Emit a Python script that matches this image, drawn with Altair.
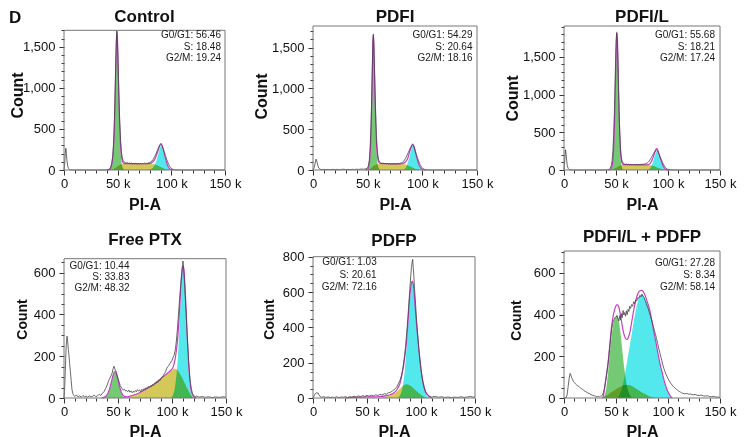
import altair as alt
import pandas as pd

FONT = "Liberation Sans"

panel_names = ["Control", "PDFI", "PDFI/L", "Free PTX", "PDFP", "PDFI/L + PDFP"]
phase_labels = ["G0/G1", "S", "G2/M"]

control_pct = [56.46, 18.48, 19.24]
pdfi_pct = [54.29, 20.64, 18.16]
pdfil_pct = [55.68, 18.21, 17.24]
freeptx_pct = [10.44, 33.83, 48.32]
pdfp_pct = [1.03, 20.61, 72.16]
combo_pct = [27.28, 8.34, 58.14]

# ---------------- Control (x in k, count) ----------------
control_raw = [(0,0),(0.6,60),(1.2,200),(1.7,265),(2.2,200),(2.8,110),(3.4,50),(4.2,20),(5,8),(6,3),(8,0),(20,0),(38,0),(41,4),(42.5,12),(43.5,35),(44.5,80),(45.5,180),(46.3,350),(47,620),(47.6,950),(48.2,1300),(48.7,1560),(49.2,1690),(49.7,1600),(50.2,1400),(50.8,1100),(51.4,800),(52,560),(52.7,360),(53.5,220),(54.3,150),(55.2,115),(56,98),(57,90),(58,84),(59,92),(60,80),(61,86),(62,78),(63,84),(64,72),(65,80),(66,75),(67,83),(68,70),(69,78),(70,74),(71,82),(72,70),(73,79),(74,76),(75,84),(76,74),(77,82),(78,80),(79,88),(80,90),(81,100),(82,110),(83,128),(84,150),(85,175),(86,205),(87,240),(88,270),(89,295),(90,310),(90.8,305),(91.6,285),(92.5,255),(93.5,215),(94.5,175),(95.5,135),(96.5,100),(97.5,70),(98.5,45),(99.5,28),(100.5,15),(101.5,8),(103,3),(105,0),(150,0)]
control_g1 = [(42,0),(43,10),(44,35),(45,100),(46,240),(46.8,450),(47.5,780),(48.2,1200),(48.8,1530),(49.3,1670),(49.8,1560),(50.4,1250),(51,900),(51.7,560),(52.5,290),(53.3,130),(54.2,50),(55.2,15),(56.5,0)]
control_s = [(44,0),(46,10),(48,28),(50,45),(52,60),(54,70),(56,76),(60,78),(65,77),(70,76),(75,76),(80,75),(83,72),(85,66),(87,56),(89,44),(91,31),(93,19),(95,9),(97,3),(99,0)]
control_g2 = [(79,0),(81,8),(83,30),(85,75),(86.5,130),(88,200),(89.2,262),(90.3,295),(91.4,275),(92.6,222),(94,150),(95.5,85),(97,40),(98.5,15),(100,4),(102,0)]
control_fit = [(40,0),(42,4),(43,12),(44,40),(45,110),(46,250),(46.8,462),(47.5,798),(48.2,1225),(48.8,1560),(49.3,1700),(49.8,1595),(50.4,1292),(51,945),(51.7,610),(52.5,345),(53.3,190),(54.2,117),(55.2,88),(56.5,78),(60,78),(65,77),(70,76),(75,76),(80,77),(81,83),(83,102),(85,141),(86.5,192),(88,250),(89.2,302),(90.3,322),(91.4,300),(92.6,242),(94,165),(95.5,95),(97,43),(98.5,15),(100,4),(102,0)]

# ---------------- PDFI ----------------
pdfi_raw = [(0,0),(1,25),(2,85),(2.8,134),(3.5,110),(4.3,60),(5.2,25),(6.5,10),(8,4),(10,8),(12,3),(14,7),(16,4),(18,9),(20,5),(22,8),(24,3),(26,7),(28,10),(30,5),(32,8),(34,4),(36,9),(38,6),(40,10),(42,7),(44,12),(46,9),(48,14),(49.5,20),(50.5,45),(51.5,120),(52.3,280),(53,520),(53.7,900),(54.3,1300),(54.8,1580),(55.2,1660),(55.7,1520),(56.2,1250),(56.8,950),(57.4,650),(58,420),(58.7,260),(59.5,160),(60.3,115),(61.2,95),(62,88),(63,80),(64,86),(65,76),(66,82),(67,74),(68,80),(69,72),(70,78),(71,70),(72,76),(73,73),(74,80),(75,71),(76,77),(77,74),(78,82),(79,78),(80,84),(81,88),(82,95),(83,108),(84,128),(85,152),(86,180),(87,210),(88,240),(89,268),(90,292),(91,310),(91.8,300),(92.7,270),(93.6,230),(94.5,190),(95.5,150),(96.5,112),(97.5,80),(98.5,52),(99.5,32),(100.5,18),(101.5,9),(103,4),(105,2),(107,0),(150,0)]
pdfi_g1 = [(49,0),(50,8),(51,35),(52,130),(52.8,330),(53.5,650),(54.2,1100),(54.7,1450),(55.1,1620),(55.6,1520),(56.2,1180),(56.8,800),(57.5,450),(58.3,200),(59.2,70),(60.2,20),(61.5,0)]
pdfi_s = [(50,0),(52,12),(54,35),(56,55),(58,68),(60,75),(63,78),(70,77),(75,76),(80,75),(84,70),(86,62),(88,50),(90,37),(92,24),(94,13),(96,5),(98,1),(99,0)]
pdfi_g2 = [(82,0),(84,15),(85.5,45),(87,100),(88.5,175),(90,255),(91.2,298),(92.4,275),(93.6,212),(95,140),(96.5,75),(98,32),(99.5,11),(101,3),(103,0)]
pdfi_fit = [(48,0),(50,8),(51,40),(52,142),(52.8,350),(53.5,680),(54.2,1135),(54.7,1490),(55.1,1665),(55.6,1570),(56.2,1237),(56.8,865),(57.5,520),(58.3,272),(59.2,145),(60.2,96),(61.5,80),(63,78),(70,77),(80,75),(82,80),(84,91),(85.5,113),(87,157),(88.5,227),(90,287),(91.2,318),(92.4,290),(93.6,224),(95,148),(96.5,78),(98,33),(99.5,11),(101,3),(103,0)]

# ---------------- PDFI/L ----------------
pdfil_raw = [(0,0),(0.5,70),(1,200),(1.5,268),(2,210),(2.6,120),(3.2,55),(4,22),(5,8),(6.5,3),(9,0),(40,0),(42,3),(43.5,10),(44.5,25),(45.5,60),(46.3,130),(47,250),(47.7,450),(48.4,750),(49,1100),(49.6,1450),(50.1,1700),(50.6,1820),(51.1,1760),(51.6,1550),(52.2,1200),(52.8,850),(53.5,520),(54.2,300),(55,180),(55.8,120),(56.8,92),(58,80),(59,74),(60,79),(61,70),(62,76),(63,68),(64,74),(65,67),(66,72),(67,66),(68,73),(69,68),(70,75),(71,69),(72,74),(73,70),(74,77),(75,72),(76,78),(77,76),(78,82),(79,86),(80,92),(81,104),(82,120),(83,142),(84,165),(85,190),(86,215),(87,238),(88,255),(88.8,265),(89.6,258),(90.5,235),(91.5,205),(92.5,172),(93.5,140),(94.5,108),(95.5,78),(96.5,54),(97.5,35),(98.5,20),(99.5,11),(101,5),(103,2),(105,0),(150,0)]
pdfil_g1 = [(44,0),(45,10),(46,35),(47,110),(47.8,280),(48.5,560),(49.2,950),(49.8,1350),(50.4,1680),(50.9,1790),(51.4,1680),(52,1350),(52.6,960),(53.3,560),(54,280),(54.8,110),(55.7,35),(56.7,8),(58,0)]
pdfil_s = [(45,0),(47,8),(49,22),(51,38),(53,52),(55,62),(57,68),(60,70),(65,70),(70,69),(75,69),(80,68),(83,64),(85,58),(87,49),(89,38),(91,27),(93,16),(95,8),(97,2),(99,0)]
pdfil_g2 = [(80,0),(82,12),(83.5,38),(85,85),(86.5,150),(87.8,212),(88.9,250),(90,238),(91.2,195),(92.5,140),(94,82),(95.5,40),(97,16),(98.5,5),(100,1),(101,0)]
pdfil_fit = [(43,0),(44,3),(45,13),(46,42),(47,125),(47.8,302),(48.5,585),(49.2,980),(49.8,1385),(50.4,1718),(50.9,1830),(51.4,1720),(52,1394),(52.6,1006),(53.3,610),(54,332),(54.8,165),(55.7,96),(56.7,74),(58,70),(65,70),(70,69),(80,68),(82,76),(83.5,100),(85,143),(86.5,200),(87.8,254),(88.9,283),(90,268),(91.2,222),(92.5,160),(94,96),(95.5,48),(97,18),(98.5,5),(100,1),(101,0)]

# ---------------- Free PTX ----------------
freeptx_raw = [(0,0),(0.5,30),(1.2,130),(2,250),(2.8,296),(3.4,270),(4,232),(4.6,205),(5.2,165),(5.9,128),(6.6,85),(7.4,40),(8.2,22),(9,12),(10,8),(11.5,14),(13,5),(14.5,10),(16,4),(17.5,12),(19,6),(20.5,9),(22,3),(23.5,11),(25,5),(26.5,8),(28,14),(29.5,6),(31,10),(32.5,18),(34,12),(35.5,22),(37,30),(38.5,45),(40,62),(41.5,85),(43,100),(44.5,118),(45.5,140),(46.3,152),(47,140),(48,130),(49,112),(50,95),(51,78),(52,60),(53,52),(54,44),(55,38),(56,42),(57,33),(58,36),(59,30),(60,38),(61,28),(62,34),(63,25),(64,32),(65,27),(66,36),(67,30),(68,40),(69,33),(70,38),(71,30),(72,42),(73,36),(74,45),(75,40),(76,50),(77,44),(78,55),(79,50),(80,58),(81,54),(82,64),(83,60),(84,70),(85,68),(86,78),(87,74),(88,86),(89,84),(90,96),(91,100),(92,108),(93,118),(94,125),(95,140),(96,150),(97,155),(98,165),(99,172),(100,180),(101,195),(102,205),(103,230),(104,270),(105,330),(106,400),(107,470),(108,540),(109,600),(109.7,640),(110.2,656),(110.8,620),(111.5,560),(112.2,490),(113,410),(113.8,330),(114.6,250),(115.4,180),(116.2,120),(117,75),(118,42),(119,22),(120,12),(121.5,6),(123,9),(125,4),(128,7),(131,3),(134,6),(137,2),(140,5),(144,3),(147,6),(150,4)]
freeptx_g1 = [(37,0),(39,8),(41,25),(42.5,48),(44,78),(45.5,108),(47,125),(48.5,112),(50,82),(51.5,50),(53,25),(54.5,10),(56,3),(57.5,0)]
freeptx_s = [(54,0),(57,3),(60,7),(63,12),(66,17),(69,23),(72,31),(75,40),(78,49),(81,59),(84,70),(87,82),(90,94),(93,107),(96,119),(99,131),(101.5,139),(103,140),(104.5,136),(106,127),(107.5,115),(109,100),(110.5,85),(112,68),(113.5,52),(115,37),(116.5,23),(118,12),(119.5,4),(121,0)]
freeptx_g2 = [(99,0),(101,15),(102.5,45),(104,105),(105.5,200),(106.7,320),(107.8,440),(108.8,545),(109.7,610),(110.4,625),(111.2,590),(112,510),(113,390),(114,265),(115,160),(116,85),(117,40),(118,15),(119.5,4),(121,0)]
freeptx_fit = [(35,0),(37,3),(39,10),(41,27),(42.5,50),(44,80),(45.5,110),(47,128),(48.5,116),(50,86),(51.5,54),(53,29),(54.5,14),(56,8),(58,6),(60,8),(63,12),(66,17),(69,23),(72,31),(75,40),(78,49),(81,59),(84,70),(87,82),(90,94),(93,107),(96,120),(99,133),(101,148),(102.5,175),(104,225),(105.5,300),(106.7,395),(107.8,495),(108.8,575),(109.7,622),(110.4,632),(111.2,605),(112,540),(113,430),(114,310),(115,200),(116,115),(117,60),(118,28),(119.5,10),(121,3),(122.5,0)]

# ---------------- PDFP ----------------
pdfp_raw = [(0,0),(1,12),(2,24),(3,30),(3.8,26),(4.6,30),(5.5,18),(6.5,9),(8,4),(10,7),(12,3),(14,6),(16,2),(18,5),(20,3),(22,7),(24,2),(26,6),(28,4),(30,8),(32,3),(34,7),(36,5),(38,10),(40,6),(42,12),(44,8),(46,13),(48,9),(50,15),(52,10),(54,16),(56,12),(58,18),(60,14),(62,20),(64,17),(66,24),(68,22),(70,30),(72,33),(74,42),(76,52),(77.5,62),(79,80),(80.5,100),(82,130),(83.3,170),(84.5,225),(85.7,290),(86.8,370),(87.8,450),(88.8,540),(89.7,620),(90.5,690),(91.2,740),(91.8,770),(92.3,785),(92.8,740),(93.4,690),(94,620),(94.7,560),(95.5,480),(96.3,410),(97.2,340),(98,280),(99,215),(100,160),(101,115),(102,80),(103,55),(104,36),(105,24),(106.5,14),(108,8),(110,5),(113,9),(116,4),(119,7),(122,3),(125,6),(128,2),(131,5),(134,3),(137,7),(140,3),(143,6),(146,9),(148,5),(150,6)]
pdfp_s = [(60,0),(64,4),(68,9),(72,17),(75,26),(78,38),(80.5,52),(82.5,64),(84.5,74),(86.5,78),(88.5,75),(90.5,68),(92.5,58),(94.5,47),(96.5,36),(98.5,25),(100.5,15),(102.5,7),(104.5,2),(106,0)]
pdfp_g2 = [(78,0),(80,10),(81.5,28),(83,65),(84.5,130),(86,230),(87.5,360),(89,490),(90.5,600),(91.8,655),(93,630),(94.2,555),(95.5,450),(96.8,355),(98.2,260),(99.7,175),(101.2,105),(102.8,55),(104.3,25),(106,9),(108,2),(109,0)]
pdfp_fit = [(30,0),(35,3),(40,4),(45,5),(50,6),(55,6),(60,7),(64,9),(68,13),(72,20),(75,30),(77,42),(78.7,58),(80.5,82),(82.7,142),(84.5,210),(85.8,274),(87,350),(88.3,463),(89.4,560),(90.4,620),(91.3,655),(91.9,662),(92.5,655),(93.3,620),(94.1,558),(95.5,445),(96.6,369),(98,275),(99.7,180),(101.2,112),(102.8,66),(104.3,35),(106,19),(108,7),(110,0)]

# ---------------- PDFI/L + PDFP ----------------
combo_raw = [(0,0),(2,1),(3,15),(4,55),(5,95),(5.8,118),(6.5,112),(7.3,98),(8.2,90),(9,80),(10,74),(11,68),(12,64),(13,58),(14,56),(15,52),(16,48),(17,44),(18,42),(19,36),(20,33),(21,30),(22,27),(23,24),(24,22),(25,19),(26,16),(27,14),(28,12),(29,11),(30,9),(31,7),(32,6),(33,8),(34,5),(35,9),(36,10),(37,14),(38,28),(39,50),(40,80),(41,112),(42,150),(43,195),(44,245),(45,295),(46,335),(47,360),(48,375),(49,385),(50,390),(51,392),(52,380),(52.8,370),(53.6,395),(54.4,375),(55.2,405),(56,385),(56.8,420),(57.6,398),(58.4,410),(59.2,392),(60,418),(60.8,400),(61.6,425),(62.4,415),(63.2,440),(64,430),(65,448),(66,440),(67,462),(68,452),(69,470),(70,465),(71,482),(72,478),(73,492),(74,485),(75,498),(76,488),(77,480),(78,468),(79,455),(80,440),(81,428),(82,410),(83,395),(84,378),(85,360),(86,342),(87,322),(88,305),(89,285),(90,262),(91,240),(92,220),(93,200),(94,180),(95,160),(96,142),(97,128),(98,115),(99,103),(100,93),(101,84),(102,76),(103,68),(104,62),(105,56),(106,51),(107,47),(108,42),(109,38),(110,34),(111,31),(112,28),(113,25),(114,23),(116,20),(118,22),(120,18),(122,19),(124,15),(126,17),(128,13),(130,12),(132,14),(134,10),(136,9),(138,11),(140,7),(142,6),(144,8),(146,4),(148,5),(150,3)]
combo_g1 = [(38,0),(39.5,20),(41,60),(42.5,130),(44,210),(45.5,285),(47,340),(48.5,375),(50,395),(51,400),(52.5,380),(54,325),(55.5,255),(57,185),(58.5,122),(60,72),(61.5,38),(63,17),(64.5,6),(66,0)]
combo_s = [(35,0),(38,5),(41,12),(44,22),(47,32),(50,42),(53,51),(56,58),(59,62),(62,62),(65,57),(68,49),(71,40),(74,30),(77,21),(80,13),(83,6),(86,2),(88,0)]
combo_g2 = [(51,0),(53,12),(55,35),(57,75),(59,125),(61,185),(63,245),(65,305),(67,365),(69,420),(71,462),(73,490),(74.7,498),(76.5,490),(78.5,470),(80.5,445),(82.5,412),(84.5,365),(86.5,312),(88.5,260),(90.5,206),(92.5,156),(94.5,115),(96.5,76),(98.5,45),(100.5,22),(102.5,6),(104,0)]
combo_fit = [(37,0),(38,12),(39.3,56),(40.8,110),(42.4,168),(44,250),(45.4,328),(47,385),(48.5,420),(50,442),(51,448),(52.5,440),(54,405),(55.5,360),(57,320),(58.5,293),(60,281),(61,282),(62,292),(63.5,318),(65,362),(67,420),(69,468),(71,500),(73,514),(74.7,516),(76.5,508),(78.5,485),(80.5,455),(82.5,420),(84.5,370),(86.5,315),(88.5,264),(90.5,210),(92.5,160),(94.5,120),(96.5,80),(98.5,48),(100.5,24),(102.5,8),(104,0)]

# ---------------- styling ----------------
G1_COLOR = "#74ca74"
S_COLOR = "#d4c858"
G2_COLOR = "#52e8ec"
FIT_COLOR = "#c63ec6"
RAW_COLOR = "#444444"
FRAME_COLOR = "#777777"

TOP_H = 144
BOT_H = 147

layouts = {
    "Control":       dict(W=161, H=TOP_H, rtop=4.3, ymax=1700, ystep=100, ymajor=500, tmax=1700, cx=47, cy=69, cs=16, pia=34, tty=-9, tx=157, ty=4, lh=11.5),
    "PDFI":          dict(W=164, H=TOP_H, rtop=0, ymax=1765, ystep=100, ymajor=500, tmax=1700, cx=52, cy=70, cs=16, pia=34, tty=-9, tx=159.5, ty=4, lh=11.5),
    "PDFI/L":        dict(W=156, H=TOP_H, rtop=0, ymax=1910, ystep=100, ymajor=500, tmax=1900, cx=52, cy=72, cs=16, pia=34, tty=-9, tx=151, ty=4, lh=11.5),
    "Free PTX":      dict(W=162, H=BOT_H, rtop=7.7, ymax=667, ystep=50, ymajor=200, tmax=650, cx=42, cy=68, cs=14, pia=33, tty=-11, tx=65.5, ty=10, lh=11),
    "PDFP":          dict(W=162, H=BOT_H, rtop=5.7, ymax=800, ystep=50, ymajor=200, tmax=800, cx=44, cy=68, cs=14, pia=33, tty=-10, tx=63.7, ty=6.4, lh=12.5),
    "PDFI/L + PDFP": dict(W=156, H=BOT_H, rtop=0, ymax=705, ystep=50, ymajor=200, tmax=700, cx=48, cy=69, cs=14, pia=33, tty=-14.3, tx=151, ty=7.4, lh=12),
}


def pts(p):
    return pd.DataFrame(p, columns=["x", "y"])


def panel(name, raw, g1, s, g2, fit, pct, d_label=False):
    L = layouts[name]
    W, H = L["W"], L["H"]
    frame = pd.DataFrame({"x": [0], "x2": [150], "y": [L["ymax"]], "y2": [0]})

    xaxis = alt.Axis(
        values=list(range(0, 151, 10)),
        labelExpr="datum.value % 50 === 0 ? (datum.value === 0 ? '0' : datum.value + ' k') : ''",
        tickSize={"condition": {"test": "datum.value % 50 === 0", "value": 5}, "value": 3},
        tickColor="#333333", domain=False, grid=False,
        labelFont=FONT, labelFontSize=13, labelPadding=2, labelColor="#111111",
        labelFlush=False, labelOverlap=False, labelBound=False,
        title="PI-A", titleFont=FONT, titleFontSize=16, titleFontWeight="bold",
        titleColor="#111111", titleY=L["pia"], titleBaseline="middle",
    )
    yaxis = alt.Axis(
        values=list(range(0, L["tmax"] + 1, L["ystep"])),
        labelExpr=f"datum.value % {L['ymajor']} === 0 ? format(datum.value, ',') : ''",
        tickSize={"condition": {"test": f"datum.value % {L['ymajor']} === 0", "value": 5}, "value": 3},
        tickColor="#333333", domain=False, grid=False,
        labelFont=FONT, labelFontSize=13, labelPadding=4, labelColor="#111111",
        labelOverlap=False, labelBound=False, labelFlush=False,
        title="Count", titleFont=FONT, titleFontSize=L["cs"], titleFontWeight="bold",
        titleColor="#111111", titleX=-L["cx"], titleY=L["cy"], titleBaseline="middle",
    )
    X = alt.X("x:Q", scale=alt.Scale(domain=[0, 150], nice=False), axis=xaxis)
    Y = alt.Y("y:Q", scale=alt.Scale(domain=[0, L["ymax"]], range=[H, L["rtop"]], nice=False), axis=yaxis)

    layers = []
    for comp, color in ((s, S_COLOR), (g1, G1_COLOR), (g2, G2_COLOR)):
        if comp:
            layers.append(
                alt.Chart(pts(comp)).mark_area(color=color, blend="multiply", interpolate="monotone")
                .encode(x=X, y=Y)
            )
    layers.append(alt.Chart(pts(fit)).mark_line(color=FIT_COLOR, strokeWidth=1.2, interpolate="monotone").encode(x=X, y=Y))
    layers.append(alt.Chart(pts(raw)).mark_line(color=RAW_COLOR, strokeWidth=0.8).encode(x=X, y=Y))
    layers.append(
        alt.Chart(frame).mark_rect(fill="transparent", stroke=FRAME_COLOR, strokeWidth=1)
        .encode(x=X, x2="x2:Q", y=Y, y2="y2:Q")
    )
    lines = [f"{lab}: {v:.2f}" for lab, v in zip(phase_labels, pct)]
    layers.append(
        alt.Chart(frame).mark_text(align="right", baseline="top", font=FONT, fontSize=10,
                                   lineHeight=L["lh"], color="#1a1a1a")
        .encode(x=alt.value(L["tx"]), y=alt.value(L["ty"]), text=alt.value(lines))
    )
    # panel title as a text mark (keeps the grid origins fixed)
    layers.append(
        alt.Chart(frame).mark_text(align="center", baseline="middle", font=FONT, fontSize=17,
                                   fontWeight="bold", color="#111111", text=name)
        .encode(x=alt.value(W / 2), y=alt.value(L["tty"]))
    )
    if d_label:
        layers.append(
            alt.Chart(frame).mark_text(align="left", baseline="top", font=FONT, fontSize=17,
                                       fontWeight="bold", color="#111111", text="D")
            .encode(x=alt.value(-55), y=alt.value(-16))
        )
    return alt.layer(*layers).properties(width=W, height=H)


panels = [
    panel("Control", control_raw, control_g1, control_s, control_g2, control_fit, control_pct, d_label=True),
    panel("PDFI", pdfi_raw, pdfi_g1, pdfi_s, pdfi_g2, pdfi_fit, pdfi_pct),
    panel("PDFI/L", pdfil_raw, pdfil_g1, pdfil_s, pdfil_g2, pdfil_fit, pdfil_pct),
    panel("Free PTX", freeptx_raw, freeptx_g1, freeptx_s, freeptx_g2, freeptx_fit, freeptx_pct),
    panel("PDFP", pdfp_raw, [], pdfp_s, pdfp_g2, pdfp_fit, pdfp_pct),
    panel("PDFI/L + PDFP", combo_raw, combo_g1, combo_s, combo_g2, combo_fit, combo_pct),
]

chart = alt.concat(*panels, columns=3, spacing={"row": 14, "column": 9}).properties(
    align="each", padding={"left": 0, "top": -1, "right": 0, "bottom": 0}
).configure(font=FONT).configure_view(stroke="transparent")

chart.save("out.html", embed_options={"renderer": "svg", "actions": False})
